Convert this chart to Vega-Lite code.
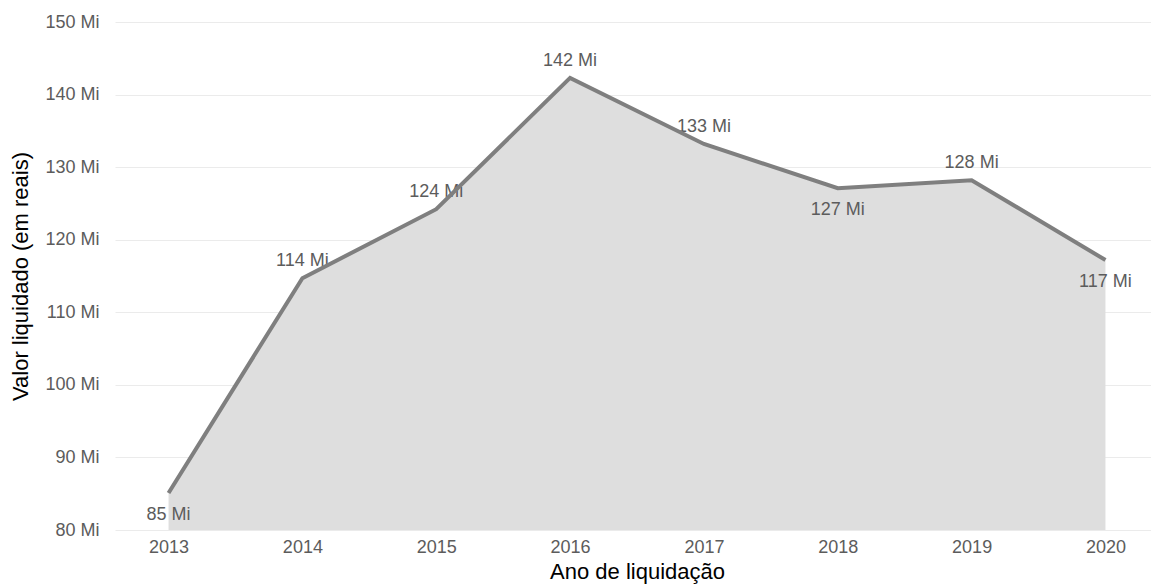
{
  "$schema": "https://vega.github.io/schema/vega-lite/v6.json",
  "autosize": "none",
  "padding": {"left": 115, "top": 22, "right": 0, "bottom": 57},
  "width": 1044,
  "height": 508,
  "background": "white",
  "config": {
    "view": {"stroke": null},
    "font": "Liberation Sans",
    "axis": {"labelFont": "Liberation Sans", "titleFont": "Liberation Sans"}
  },
  "data": {
    "values": [
      {"ano": "2013", "valor": 85100000},
      {"ano": "2014", "valor": 114700000},
      {"ano": "2015", "valor": 124200000},
      {"ano": "2016", "valor": 142300000},
      {"ano": "2017", "valor": 133200000},
      {"ano": "2018", "valor": 127100000},
      {"ano": "2019", "valor": 128200000},
      {"ano": "2020", "valor": 117200000}
    ]
  },
  "transform": [
    {"calculate": "floor(datum.valor / 1000000) + ' Mi'", "as": "rotulo"}
  ],
  "encoding": {
    "x": {
      "field": "ano",
      "type": "ordinal",
      "scale": {"type": "point", "padding": 0.4},
      "axis": {
        "title": "Ano de liquidação",
        "labelAngle": 0,
        "labelFontSize": 18,
        "labelColor": "#5c5c5c",
        "labelPadding": 8,
        "domain": false,
        "ticks": false,
        "titleFontSize": 22,
        "titleFontWeight": "normal",
        "titleColor": "#000000",
        "titlePadding": 5
      }
    },
    "y": {
      "field": "valor",
      "type": "quantitative",
      "scale": {"domain": [80000000, 150000000], "zero": false, "nice": false},
      "axis": {
        "title": "Valor liquidado (em reais)",
        "values": [80000000, 90000000, 100000000, 110000000, 120000000, 130000000, 140000000, 150000000],
        "labelExpr": "(datum.value / 1000000) + ' Mi'",
        "labelFontSize": 18,
        "labelColor": "#5c5c5c",
        "labelPadding": 16,
        "domain": false,
        "ticks": false,
        "grid": true,
        "gridColor": "#ebebeb",
        "gridWidth": 1.2,
        "titleFontSize": 22,
        "titleFontWeight": "normal",
        "titleColor": "#000000",
        "titlePadding": 12
      }
    }
  },
  "layer": [
    {
      "mark": {"type": "area", "color": "#dedede", "opacity": 1},
      "encoding": {"y2": {"datum": 80000000}}
    },
    {
      "transform": [{"filter": {"field": "ano", "oneOf": ["2014", "2015", "2016", "2017", "2019"]}}],
      "mark": {"type": "text", "fontSize": 18, "color": "#5c5c5c", "baseline": "middle", "dy": -17},
      "encoding": {"text": {"field": "rotulo"}}
    },
    {
      "transform": [{"filter": {"field": "ano", "oneOf": ["2013", "2018", "2020"]}}],
      "mark": {"type": "text", "fontSize": 18, "color": "#5c5c5c", "baseline": "middle", "dy": 22},
      "encoding": {"text": {"field": "rotulo"}}
    },
    {"mark": {"type": "line", "color": "#7f7f7f", "strokeWidth": 4}}
  ]
}
